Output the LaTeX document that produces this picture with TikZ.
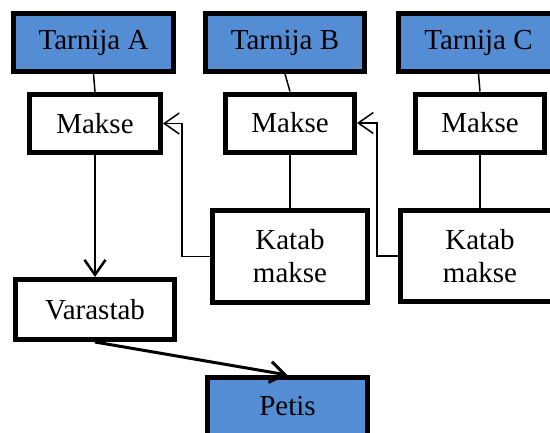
\documentclass[tikz,border=0pt]{standalone}
\usepackage{fontspec}
\setmainfont{Liberation Serif}
\usetikzlibrary{arrows.meta}
\definecolor{boxblue}{RGB}{84,141,212}
\begin{document}
\begin{tikzpicture}[x=1pt,y=-1pt,
  box/.style={draw=black,line width=5pt,fill=white,inner sep=0pt,
    minimum height=58pt,align=center,
    font=\fontsize{29}{33}\selectfont},
  bluebox/.style={box,fill=boxblue},
  link/.style={line width=1.5pt},
  barb/.style={-{Straight Barb[length=15pt,width=21pt]}},
  flow/.style={line width=2.5pt,barb},
  back/.style={line width=1.5pt,barb}]
\useasboundingbox (0,0) rectangle (550,432);
\clip (0,0) rectangle (550,432);

% suppliers
\node[bluebox,minimum width=160pt] (tA) at (93.5,42.5) {Tarnija A};
\node[bluebox,minimum width=159pt] (tB) at (285,42.5) {Tarnija B};
\node[bluebox,minimum width=160pt] (tC) at (478.5,42.5) {Tarnija C};

% payments
\node[box,minimum width=131pt] (mA) at (95,123.5) {Makse};
\node[box,minimum width=129pt] (mB) at (290,123) {Makse};
\node[box,minimum width=129pt] (mC) at (480,123) {Makse};

% payment coverage
\node[box,minimum width=155pt,minimum height=92pt] (kB) at (290,256.5) {Katab\\makse};
\node[box,minimum width=159pt,minimum height=91pt] (kC) at (480,256) {Katab\\makse};

% storage and sales
\node[box,minimum width=159pt,minimum height=60pt] (vA) at (95,309.5) {Varastab};
\node[bluebox,minimum width=160pt] (pe) at (287.5,406.5) {Petis};

% supplier to payment
\draw[link] (tA.south) -- (mA.north);
\draw[link] (tB.south) -- (mB.north);
\draw[link] (tC.south) -- (mC.north);

% payment to coverage
\draw[link] (mB.south) -- (kB.north);
\draw[link] (mC.south) -- (kC.north);

% coverage back to the previous payment
\draw[back] (kB.west) -- ++(-28,0) |- (mA.east);
\draw[back] (kC.west) -- ++(-21,0) |- (mB.east);

% main flow
\draw[flow] (mA.south) -- (vA.north);
\draw[line width=3pt,barb] (vA.south) -- (pe.north);
\end{tikzpicture}
\end{document}
